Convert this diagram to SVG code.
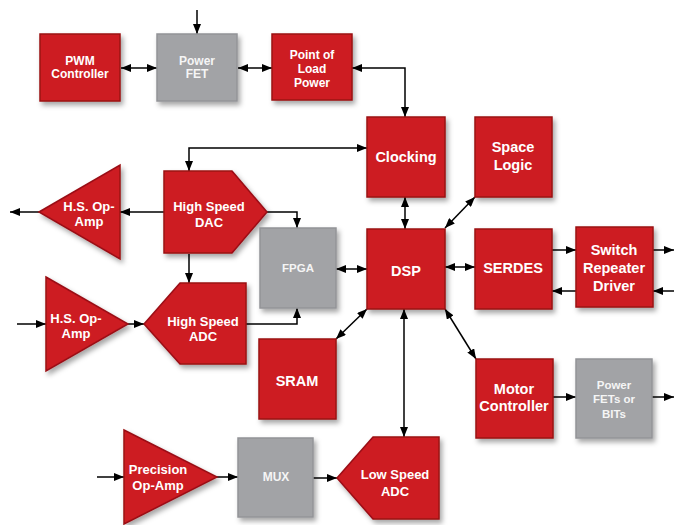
<svg xmlns="http://www.w3.org/2000/svg" width="674" height="525" viewBox="0 0 674 525">
<defs>
<filter id="sh" x="-20%" y="-20%" width="150%" height="150%">
<feDropShadow dx="2.5" dy="3.5" stdDeviation="2.5" flood-color="#000" flood-opacity="0.35"/>
</filter>
<marker id="ah" viewBox="0 0 10 8" refX="10" refY="4" markerWidth="10" markerHeight="8" markerUnits="userSpaceOnUse" orient="auto-start-reverse">
<path d="M0,0 L10,4 L0,8 z" fill="#000"/>
</marker>
<style>
.r{fill:#cd1a22;stroke:#9a1015;stroke-width:1.5;filter:url(#sh)}
.g{fill:#a2a3a6;stroke:#939497;stroke-width:1.5;filter:url(#sh)}
text{font-family:"Liberation Sans",Arial,sans-serif;font-weight:bold;fill:#fff;text-anchor:middle}
.t12{font-size:12px}
.t13{font-size:13px}
.t14{font-size:14.5px}
.gt{fill:#f5f5f5;font-size:11.5px}
.c{fill:none;stroke:#000;stroke-width:1.5}
.e{marker-end:url(#ah)}
.b{marker-start:url(#ah);marker-end:url(#ah)}
</style>
</defs>
<rect width="674" height="525" fill="#fff"/>
<g id="connectors">
<path class="c e" d="M197,10 V34"/>
<path class="c b" d="M121,68 H157"/>
<path class="c b" d="M238,68 H272"/>
<path class="c b" d="M352,68 H405 V117"/>
<path class="c b" d="M367,148 H189 V171"/>
<path class="c e" d="M164,212 H120"/>
<path class="c e" d="M39,212 H10"/>
<path class="c e" d="M267,212 H297 V228"/>
<path class="c e" d="M189,254 V283"/>
<path class="c e" d="M246,324 H297 V308"/>
<path class="c e" d="M17,324 H46"/>
<path class="c e" d="M128,324 H144"/>
<path class="c b" d="M336,269 H367"/>
<path class="c b" d="M405,197 V229"/>
<path class="c b" d="M445,228 L475,197"/>
<path class="c b" d="M445,267 H475"/>
<path class="c e" d="M552,250 H576"/>
<path class="c e" d="M576,291 H552"/>
<path class="c e" d="M653,250 H674"/>
<path class="c e" d="M674,291 H653"/>
<path class="c b" d="M336,339 L367,309"/>
<path class="c b" d="M404,309 V437"/>
<path class="c b" d="M445,309 L476,359"/>
<path class="c e" d="M553,397 H576"/>
<path class="c e" d="M652,397 H674"/>
<path class="c e" d="M97,477 H124"/>
<path class="c e" d="M217,477 H238"/>
<path class="c e" d="M313,478 H337"/>
</g>
<g id="pwm"><rect class="r" x="40" y="34" width="80" height="67"/><text class="t12" x="80" y="64.5">PWM</text><text class="t12" x="80" y="77.5">Controller</text></g>
<g id="powerfet"><rect class="g" x="157" y="34" width="80" height="67"/><text class="gt" style="font-size:12px" x="197" y="64.5">Power</text><text class="gt" style="font-size:12px" x="197" y="77.5">FET</text></g>
<g id="pol"><rect class="r" x="272" y="34" width="80" height="66"/><text class="t12" x="312" y="59">Point of</text><text class="t12" x="312" y="73">Load</text><text class="t12" x="312" y="87">Power</text></g>
<g id="clocking"><rect class="r" x="367" y="117" width="78" height="80"/><text class="t14" x="406" y="162">Clocking</text></g>
<g id="space"><rect class="r" x="475" y="117" width="77" height="80"/><text class="t14" x="513" y="152">Space</text><text class="t14" x="513" y="170">Logic</text></g>
<g id="dac"><path class="r" d="M164,171 H232 L267,212 L232,253 H164 Z"/><text class="t13" x="209" y="210.5">High Speed</text><text class="t13" x="209" y="226.5">DAC</text></g>
<g id="opamp1"><path class="r" d="M39,212 L120,165 V259 Z"/><text class="t13" x="89" y="210.5">H.S. Op-</text><text class="t13" x="89" y="225.5">Amp</text></g>
<g id="fpga"><rect class="g" x="260" y="228" width="76" height="80"/><text class="gt" x="298" y="272">FPGA</text></g>
<g id="dsp"><rect class="r" x="367" y="229" width="78" height="80"/><text class="t14" x="406" y="276">DSP</text></g>
<g id="serdes"><rect class="r" x="475" y="229" width="77" height="80"/><text class="t14" x="513" y="273">SERDES</text></g>
<g id="switch"><rect class="r" x="576" y="227" width="77" height="80"/><text class="t14" x="614" y="255">Switch</text><text class="t14" x="614" y="273">Repeater</text><text class="t14" x="614" y="291">Driver</text></g>
<g id="opamp2"><path class="r" d="M46,277 L128,324 L46,371 Z"/><text class="t13" x="76" y="322.5">H.S. Op-</text><text class="t13" x="76" y="337.5">Amp</text></g>
<g id="adc"><path class="r" d="M144,324 L180,283 H246 V364 H180 Z"/><text class="t13" x="203" y="325.5">High Speed</text><text class="t13" x="203" y="340.5">ADC</text></g>
<g id="sram"><rect class="r" x="259" y="339" width="77" height="80"/><text class="t14" x="297" y="386">SRAM</text></g>
<g id="motor"><rect class="r" x="476" y="359" width="77" height="79"/><text class="t14" x="514" y="394">Motor</text><text class="t14" x="514" y="411">Controller</text></g>
<g id="powerfets"><rect class="g" x="576" y="359" width="76" height="79"/><text class="gt" x="614" y="389">Power</text><text class="gt" x="614" y="403">FETs or</text><text class="gt" x="614" y="418">BITs</text></g>
<g id="precision"><path class="r" d="M124,430 L217,477 L124,524 Z"/><text class="t13" x="158" y="473.5">Precision</text><text class="t13" x="158" y="489.5">Op-Amp</text></g>
<g id="mux"><rect class="g" x="238" y="438" width="75" height="79"/><text class="gt" style="font-size:12px" x="276" y="481">MUX</text></g>
<g id="lsadc"><path class="r" d="M337,478 L373,437 H439 V519 H373 Z"/><text class="t13" x="395" y="478.5">Low Speed</text><text class="t13" x="395" y="495.5">ADC</text></g>
</svg>
